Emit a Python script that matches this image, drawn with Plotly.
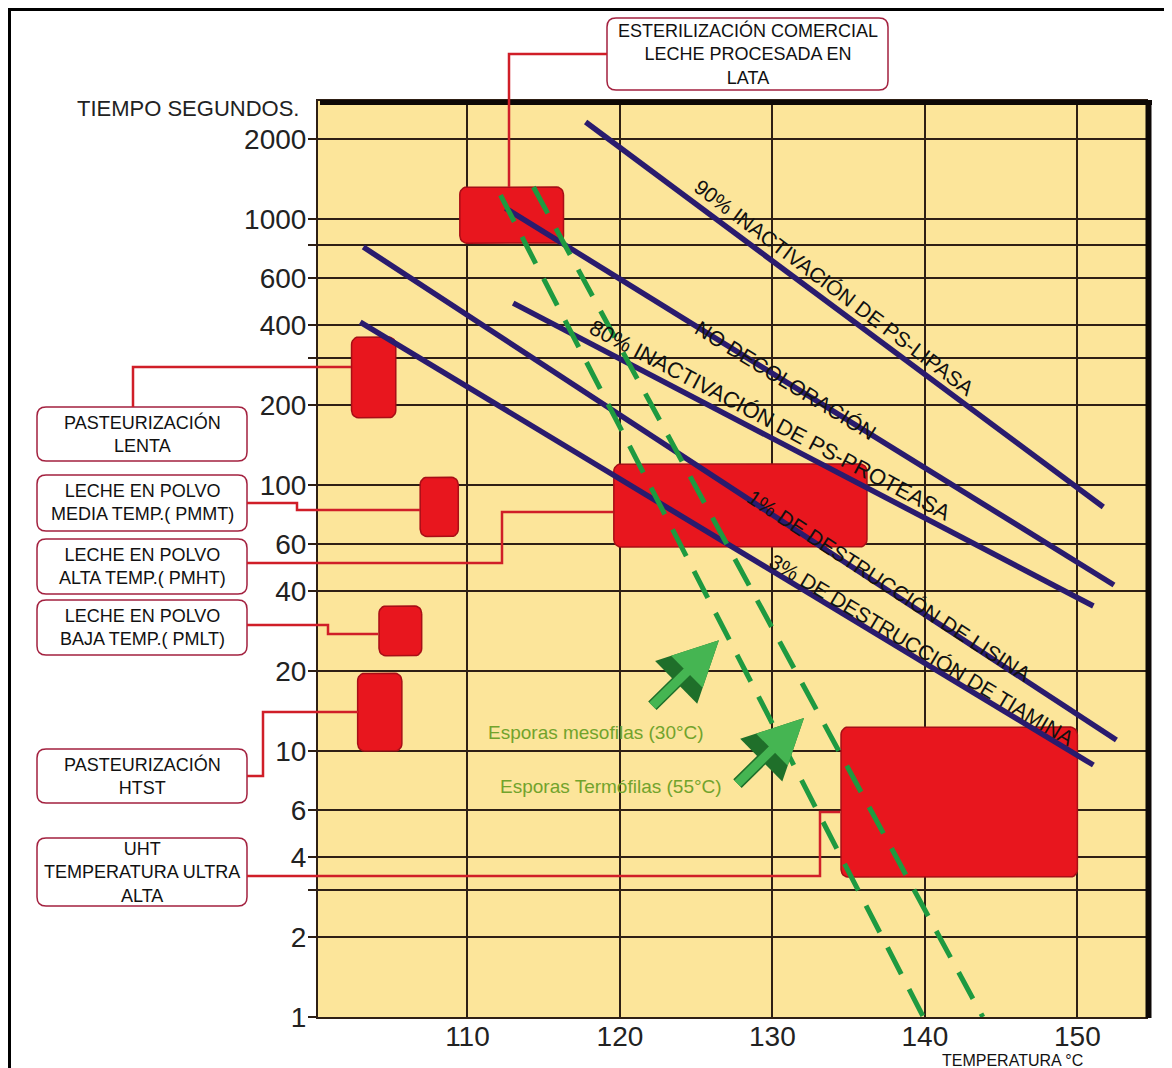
import numpy as np
import plotly.graph_objects as go

# ---------------- data ----------------
process_labels = ["ESTERILIZACIÓN COMERCIAL", "PASTEURIZACIÓN LENTA", "PMMT", "PMHT",
                  "PMLT", "PASTEURIZACIÓN HTST", "UHT"]
process_temp_min = [109.5, 102.4, 106.9, 119.6, 104.2, 102.8, 134.5]
process_temp_max = [116.3, 105.3, 109.4, 136.2, 107.0, 105.7, 150.0]
process_time_min = [812, 179, 64, 58.5, 22.8, 10.0, 3.36]
process_time_max = [1320, 360, 107, 120, 35.1, 19.6, 12.3]

curve_labels = ["90% INACTIVACIÓN DE PS-LIPASA", "NO DECOLORACIÓN",
                "80% INACTIVACIÓN DE PS-PROTEASA", "1% DE DESTRUCCIÓN DE LISINA",
                "3% DE DESTRUCCIÓN DE TIAMINA"]
curve_temp_start = [117.75, 112.5, 113.0, 103.17, 102.97]
curve_temp_end = [151.7, 152.4, 151.05, 152.56, 151.05]
curve_time_start = [2317, 1099, 483, 785, 410]
curve_time_end = [82.7, 42.1, 35.1, 11.0, 8.86]

spore_labels = ["Esporas mesofilas (30°C)", "Esporas Termófilas (55°C)"]
spore_temp_start = [112.17, 114.33]
spore_temp_end = [139.9, 143.8]
spore_time_start = [1231, 1320]
spore_time_end = [1, 1]

y_tick_values = [1, 2, 4, 6, 10, 20, 40, 60, 100, 200, 400, 600, 1000, 2000]
y_grid_extra = [3, 300, 800]
x_tick_values = [110, 120, 130, 140, 150]

callout_texts = [
    "ESTERILIZACIÓN COMERCIAL<br>LECHE PROCESADA EN<br>LATA",
    "PASTEURIZACIÓN<br>LENTA",
    "LECHE EN POLVO<br>MEDIA TEMP.( PMMT)",
    "LECHE EN POLVO<br>ALTA TEMP.( PMHT)",
    "LECHE EN POLVO<br>BAJA TEMP.( PMLT)",
    "PASTEURIZACIÓN<br>HTST",
    "UHT<br>TEMPERATURA ULTRA<br>ALTA",
]

# ---------------- layout geometry (reference-page pixels) ----------------
PAGE_OFF = 8                      # default body margin of the html page
W, H = 1172 - PAGE_OFF, 1068 - PAGE_OFF
L, R, T, B = 318, 1146, 101, 1017  # plot area in page pixels
FONT = "Liberation Sans, Arial, sans-serif"


def px(x):
    return (x - L) / (R - L)


def py(y):
    return (B - y) / (B - T)


def rounded_box(x0, x1, y0, y1, rx=0.45, ry=0.028, n=7):
    l0, l1 = np.log10(y0), np.log10(y1)
    corners = [(x1 - rx, l1 - ry, 0), (x0 + rx, l1 - ry, 90),
               (x0 + rx, l0 + ry, 180), (x1 - rx, l0 + ry, 270)]
    xs, ys = [], []
    for cx, cy, a0 in corners:
        for t in np.linspace(a0, a0 + 90, n):
            xs.append(cx + rx * np.cos(np.radians(t)))
            ys.append(10 ** (cy + ry * np.sin(np.radians(t))))
    xs.append(xs[0])
    ys.append(ys[0])
    return xs, ys


def rounded_path(x0, y0, x1, y1, r=9):
    rx, ry = r / (R - L), r / (B - T)
    X0, X1 = px(x0), px(x1)
    Y0, Y1 = py(y1), py(y0)  # bottom, top
    return (f"M {X0+rx},{Y1} L {X1-rx},{Y1} Q {X1},{Y1} {X1},{Y1-ry} "
            f"L {X1},{Y0+ry} Q {X1},{Y0} {X1-rx},{Y0} L {X0+rx},{Y0} "
            f"Q {X0},{Y0} {X0},{Y0+ry} L {X0},{Y1-ry} Q {X0},{Y1} {X0+rx},{Y1} Z")


fig = go.Figure()

for i, name in enumerate(process_labels):
    xs, ys = rounded_box(process_temp_min[i], process_temp_max[i],
                         process_time_min[i], process_time_max[i])
    fig.add_trace(go.Scatter(x=xs, y=ys, mode="lines", fill="toself",
                             fillcolor="#E8161E", line=dict(color="#A80E16", width=1.5),
                             name=name, showlegend=False, hoverinfo="name"))

for i, name in enumerate(curve_labels):
    fig.add_trace(go.Scatter(x=[curve_temp_start[i], curve_temp_end[i]],
                             y=[curve_time_start[i], curve_time_end[i]],
                             mode="lines", line=dict(color="#2A1B6E", width=5.5),
                             name=name, showlegend=False))

for i, name in enumerate(spore_labels):
    fig.add_trace(go.Scatter(x=[spore_temp_start[i], spore_temp_end[i]],
                             y=[spore_time_start[i], spore_time_end[i]],
                             mode="lines", line=dict(color="#1E9A40", width=5, dash="30px,17px"),
                             name=name, showlegend=False))

shapes = []
shapes.append(dict(type="line", xref="paper", yref="paper", x0=px(320), x1=px(1152),
                   y0=py(102.5), y1=py(102.5), line=dict(color="#0d0806", width=5)))
shapes.append(dict(type="line", xref="paper", yref="paper", x0=px(1148.5), x1=px(1148.5),
                   y0=py(100), y1=py(1018), line=dict(color="#0d0806", width=6)))
shapes.append(dict(type="rect", xref="paper", yref="paper", x0=px(9.5), x1=px(1190),
                   y0=py(1090), y1=py(9.5), line=dict(color="#000000", width=3)))

callout_boxes = [(607, 18, 888, 90), (37, 407, 247, 461), (37, 475, 247, 531),
                 (37, 539, 247, 594), (37, 600, 247, 655), (37, 749, 247, 803),
                 (37, 838, 247, 906)]
for (x0, y0, x1, y1) in callout_boxes:
    shapes.append(dict(type="path", xref="paper", yref="paper", path=rounded_path(x0, y0, x1, y1),
                       fillcolor="white", line=dict(color="#A3213F", width=1.5)))

connectors = [
    [(607, 54), (509, 54), (509, 187)],
    [(133, 407), (133, 367), (351, 367)],
    [(247, 503), (297, 503), (297, 510), (420, 510)],
    [(247, 563), (502, 563), (502, 512), (613, 512)],
    [(247, 625), (328, 625), (328, 634), (378, 634)],
    [(247, 776), (263, 776), (263, 712), (358, 712)],
    [(247, 876), (820, 876), (820, 812), (840, 812)],
]
for pts in connectors:
    path = "M " + " L ".join(f"{px(a)},{py(b)}" for a, b in pts)
    shapes.append(dict(type="path", xref="paper", yref="paper", path=path,
                       line=dict(color="#D01E28", width=2.5)))

annotations = []
for (x0, y0, x1, y1), txt in zip(callout_boxes, callout_texts):
    annotations.append(dict(xref="paper", yref="paper", x=px((x0 + x1) / 2), y=py((y0 + y1) / 2),
                            xanchor="center", yanchor="middle",
                            text=txt, showarrow=False, align="center",
                            font=dict(family=FONT, size=18, color="#111111")))

curve_label_pos = [(134.04, 2.741, 37, 21), (130.89, 2.395, 31.5, 21), (129.9, 2.244, 27.8, 22),
                   (137.65, 1.624, 33, 21), (139.75, 1.380, 31, 21)]
for (x, ylog, ang, fs), txt in zip(curve_label_pos, curve_labels):
    annotations.append(dict(xref="x", yref="y", x=x, y=ylog, text=txt, showarrow=False,
                            xanchor="center", yanchor="middle",
                            textangle=ang, font=dict(family=FONT, size=fs, color="#111111")))

spore_label_pos = [(118.41, 1.068), (119.39, 0.868)]
for (x, ylog), txt in zip(spore_label_pos, spore_labels):
    annotations.append(dict(xref="x", yref="y", x=x, y=ylog, text=txt, showarrow=False,
                            xanchor="center", yanchor="middle",
                            font=dict(family=FONT, size=19, color="#72A32C")))

for (x, ylog) in [(126.49, np.log10(26.1)), (132.07, np.log10(13.3))]:
    for col, w in [("#1F6F2A", 12), ("#45B552", 9)]:
        annotations.append(dict(xref="x", yref="y", x=x, y=ylog, ax=-68, ay=67, text="",
                                showarrow=True, arrowhead=2, arrowsize=1, arrowwidth=w,
                                arrowcolor=col, standoff=0, startstandoff=0))

annotations.append(dict(xref="paper", yref="paper", x=px(188), y=py(108), text="TIEMPO SEGUNDOS.",
                        xanchor="center", yanchor="middle",
                        showarrow=False, font=dict(family=FONT, size=22, color="#222222")))
annotations.append(dict(xref="paper", yref="paper", x=px(1012), y=py(1060), text="TEMPERATURA °C",
                        xanchor="center", yanchor="middle",
                        showarrow=False, font=dict(family=FONT, size=16, color="#111111")))

y_all = sorted(y_tick_values + y_grid_extra)
y_text = [str(v) if v in y_tick_values else "" for v in y_all]

fig.update_layout(
    width=W, height=H,
    margin=dict(l=L - PAGE_OFF, r=1172 - R, t=T - PAGE_OFF, b=1068 - B),
    paper_bgcolor="white", plot_bgcolor="#FCE59A",
    showlegend=False,
    shapes=shapes, annotations=annotations,
    xaxis=dict(range=[100.2, 154.5], tickmode="array", tickvals=x_tick_values,
               showgrid=True, gridcolor="#2E1F14", gridwidth=2, zeroline=False,
               ticks="", showline=True, linecolor="#2E1F14", linewidth=2, mirror=True,
               ticklabelstandoff=-7,
               tickfont=dict(family=FONT, size=28, color="#222222")),
    yaxis=dict(type="log", range=[0, 3.444], tickmode="array", tickvals=y_all, ticktext=y_text,
               showgrid=True, gridcolor="#2E1F14", gridwidth=2, zeroline=False,
               ticks="outside", ticklen=8, tickcolor="#2E1F14", tickwidth=2,
               showline=True, linecolor="#2E1F14", linewidth=2, mirror=True,
               ticklabelstandoff=-4,
               tickfont=dict(family=FONT, size=28, color="#222222")),
)

fig.write_html("out.html")
